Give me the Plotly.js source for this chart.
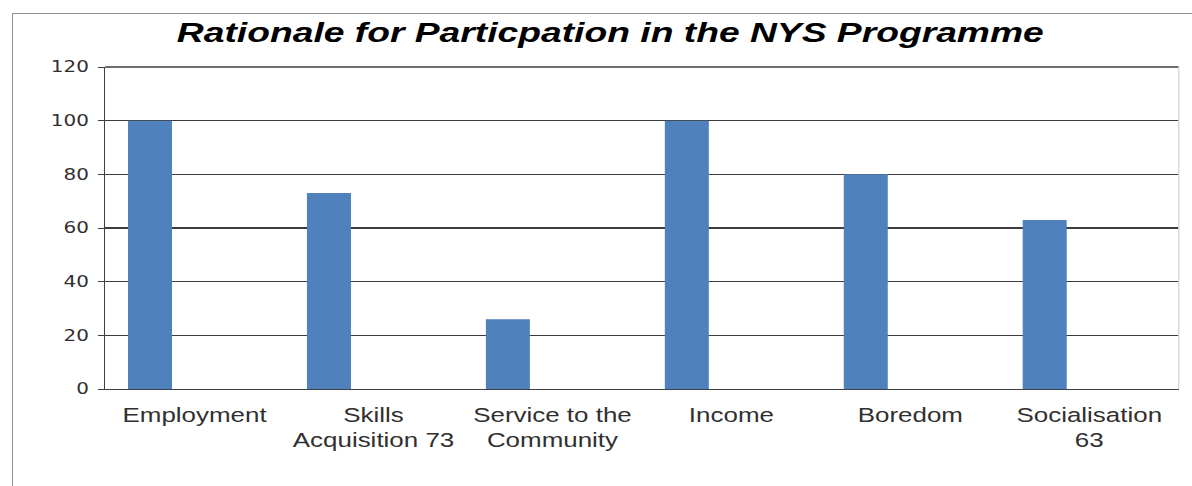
<!DOCTYPE html>
<html>
<head>
<meta charset="utf-8">
<script src="https://cdn.plot.ly/plotly-3.0.1.min.js"></script>
<style>
  html, body { margin: 0; padding: 0; background: #ffffff; overflow: hidden; width: 1192px; height: 486px; }
  #frame { position: absolute; left: 12px; top: 13px; width: 1200px; height: 500px;
           border-left: 1px solid #8f8f8f; border-top: 1px solid #8f8f8f; }
  #chart { position: absolute; left: 0; top: 0; width: 896px; height: 486px;
           transform: scaleX(1.3304); transform-origin: 0 0; }
</style>
</head>
<body>
<div id="frame"></div>
<div id="chart"></div>
<script>
// ---- data ----
const categories = [
  "Employment",
  "Skills<br>Acquisition 73",
  "Service to the<br>Community",
  "Income",
  "Boredom",
  "Socialisation<br>63"
];
const values = [100, 73, 26, 100, 80, 63];
const yTicks = [0, 20, 40, 60, 80, 100, 120];
const chartTitle = "Rationale for Particpation in the NYS Programme";

const trace = {
  type: "bar",
  x: categories,
  y: values,
  marker: { color: "#4F81BD", line: { width: 0 } },
  width: 0.246,
  offset: -0.372,
  hoverinfo: "none"
};

const layout = {
  width: 896,
  height: 486,
  margin: { l: 79, r: 10, t: 67, b: 97, pad: 0 },
  paper_bgcolor: "rgba(0,0,0,0)",
  plot_bgcolor: "#ffffff",
  showlegend: false,
  title: {
    text: chartTitle,
    xref: "container", yref: "container",
    x: 0.512, xanchor: "center",
    y: 0.933, yanchor: "middle",
    font: { family: "Liberation Sans, Arial, sans-serif", size: 28, color: "#000000", weight: "bold", style: "italic" }
  },
  xaxis: {
    type: "category",
    showgrid: false,
    showline: true, mirror: false,
    linecolor: "#404040", linewidth: 1.3,
    ticks: "",
    ticklabelstandoff: 8,
    tickfont: { family: "Liberation Sans, Arial, sans-serif", size: 19.5, color: "#303030" },
    fixedrange: true
  },
  yaxis: {
    range: [0, 120],
    tickvals: yTicks,
    ticktext: yTicks.map(String),
    showgrid: true, gridcolor: "#3c3c3c", gridwidth: 1.2,
    zeroline: false,
    showline: true, linecolor: "#404040", linewidth: 1.2,
    ticks: "outside", ticklen: 4, tickcolor: "#404040", tickwidth: 1,
    ticklabelstandoff: 4,
    tickfont: { family: "DejaVu Sans, Verdana, sans-serif", size: 15, color: "#303030" },
    fixedrange: true
  },
  shapes: [
    { type: "line", xref: "paper", yref: "paper", x0: 0, x1: 1, y0: 1, y1: 1,
      line: { color: "#3c3c3c", width: 1.3 } },
    { type: "line", xref: "paper", yref: "paper", x0: 1, x1: 1, y0: 0, y1: 1,
      line: { color: "#d4d4d4", width: 1 } }
  ]
};

Plotly.newPlot("chart", [trace], layout, { staticPlot: true, displayModeBar: false });
</script>
</body>
</html>
